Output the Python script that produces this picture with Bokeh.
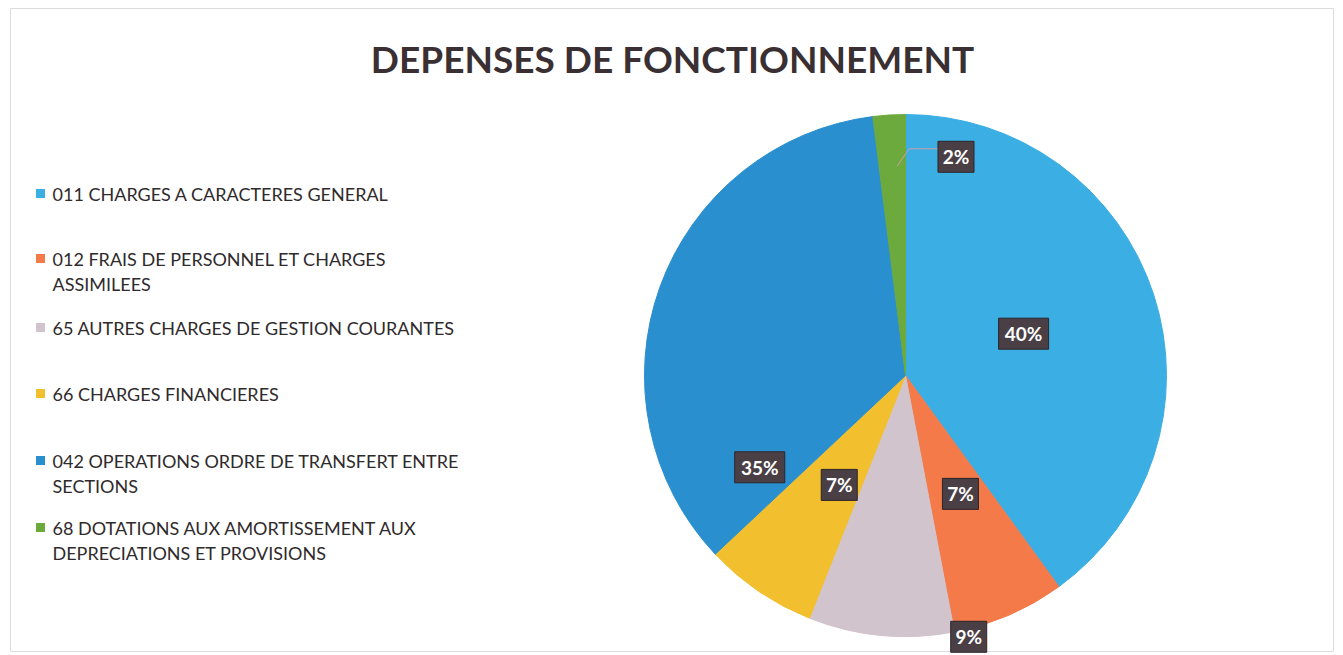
import math
from bokeh.plotting import figure
from bokeh.models import Range1d, ColumnDataSource
from bokeh.core.properties import value
from bokeh.embed import file_html
from bokeh.resources import INLINE

# ---- data ----
title = "DEPENSES DE FONCTIONNEMENT"
categories = [
    "011 CHARGES A CARACTERES GENERAL",
    "012 FRAIS DE PERSONNEL ET CHARGES\nASSIMILEES",
    "65 AUTRES CHARGES DE GESTION COURANTES",
    "66 CHARGES FINANCIERES",
    "042 OPERATIONS ORDRE DE TRANSFERT ENTRE\nSECTIONS",
    "68 DOTATIONS AUX AMORTISSEMENT AUX\nDEPRECIATIONS ET PROVISIONS",
]
shares = [40, 7, 9, 7, 35, 2]
pct_labels = ["40%", "7%", "9%", "7%", "35%", "2%"]

# ---- style ----
colors = ["#3BAEE4", "#F47A4A", "#D2C4CC", "#F2BF2E", "#2A8FCF", "#6CAA3E"]
label_r = [0.48, 0.50, 1.03, 0.49, 0.66, 0.86]        # fraction of radius
label_da = [1.5, 1.5, 19.0, 3.0, 52.0, -16.6]         # degrees offset from mid-angle
legend_y = [462, 397, 328, 262, 195, 128]            # first-line y of each legend entry (y-up)
line_step = 25
W, H = 1343, 655
cx, cy, R = 905, 280, 261
text_color = "#2f2a2c"
box_color = "#4B3F46"

p = figure(width=W, height=H, x_range=Range1d(0, W), y_range=Range1d(0, H),
           output_backend="svg", toolbar_location=None, min_border=0,
           background_fill_color="white", border_fill_color="white")
p.axis.visible = False
p.grid.visible = False
p.outline_line_color = None

# faint page border
p.rect(x=[W / 2], y=[H / 2 - 2], width=[W - 20], height=[H - 12], fill_color=None,
       line_color="#dcdcdc", line_width=1)

# title
p.text(x=[672], y=[597], text=[title], text_align="center", text_baseline="middle",
       text_font=value("Lato"), text_font_style="bold", text_font_size="37px",
       text_color="#3a2f33")

# pie
total = float(sum(shares))
starts, ends, mids = [], [], []
cum = 0.0
for s in shares:
    a0 = math.pi / 2 - cum / total * 2 * math.pi
    cum += s
    a1 = math.pi / 2 - cum / total * 2 * math.pi
    starts.append(a0)
    ends.append(a1)
    mids.append((a0 + a1) / 2)

src = ColumnDataSource(dict(start=starts, end=ends, color=colors))
p.wedge(x=cx, y=cy, radius=R, start_angle="start", end_angle="end", direction="clock",
        fill_color="color", line_color="color", line_width=1, source=src)

# data labels
lx, ly, bw = [], [], []
for m, rf, da, t in zip(mids, label_r, label_da, pct_labels):
    a = m + math.radians(da)
    lx.append(cx + rf * R * math.cos(a))
    ly.append(cy + rf * R * math.sin(a))
    bw.append(14 * len(t) + 8)

# leader line for the small slice
g = len(shares) - 1
p.line(x=[cx + 0.88 * R * math.cos(mids[g]) + 6, cx + 0.88 * R * math.cos(mids[g]) + 18, lx[g] - bw[g] / 2],
       y=[cy + 0.88 * R * math.sin(mids[g]) - 20, ly[g] + 8, ly[g] + 8],
       line_color="#c9a0a8", line_width=1)

p.rect(x=lx, y=ly, width=bw, height=31, width_units="screen", height_units="screen",
       fill_color=box_color, line_color="#2c2528", line_width=1)
p.text(x=lx, y=ly, text=pct_labels, text_align="center", text_baseline="middle",
       text_font=value("Lato"), text_font_style="bold", text_font_size="19px",
       text_color="white")

# legend
lg_x = 52
for cat, col, ty in zip(categories, colors, legend_y):
    p.rect(x=[40], y=[ty], width=[9], height=[9], width_units="screen",
           height_units="screen", fill_color=col, line_color=None)
    for k, line in enumerate(cat.split("\n")):
        p.text(x=[lg_x], y=[ty - k * line_step], text=[line], text_align="left",
               text_baseline="middle", text_font=value("Lato"), text_font_size="18px",
               text_color=text_color)

open("out.html", "w").write(file_html(p, INLINE))
